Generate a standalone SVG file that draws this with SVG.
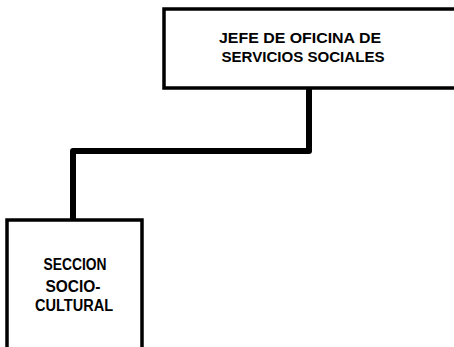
<svg xmlns="http://www.w3.org/2000/svg" width="454" height="347" viewBox="0 0 454 347">
<style>
.box{fill:none;stroke:#000;stroke-width:3.5}
.conn{fill:none;stroke:#000;stroke-width:6;stroke-linejoin:round}
.t{font-family:"Liberation Sans",Arial,sans-serif;font-weight:bold;font-size:15px;fill:#000;text-anchor:middle}
.s{font-size:16px}
</style>
<rect width="454" height="347" fill="#fff"/>
<g id="connectors">
<path class="conn" d="M309 88 V151 H73 V220"/>
</g>
<g id="jefe">
<path class="box" d="M460 9 H164 V88 H460"/>
<text class="t" x="300" y="43" textLength="162" lengthAdjust="spacingAndGlyphs">JEFE DE OFICINA DE</text>
<text class="t" x="303" y="62" textLength="163" lengthAdjust="spacingAndGlyphs">SERVICIOS SOCIALES</text>
</g>
<g id="seccion">
<path class="box" d="M7 350 V220 H142 V350"/>
<text class="t s" x="75" y="270" textLength="63" lengthAdjust="spacingAndGlyphs">SECCION</text>
<text class="t s" x="73" y="292" textLength="55" lengthAdjust="spacingAndGlyphs">SOCIO-</text>
<text class="t s" x="74" y="311" textLength="78" lengthAdjust="spacingAndGlyphs">CULTURAL</text>
</g>
</svg>
